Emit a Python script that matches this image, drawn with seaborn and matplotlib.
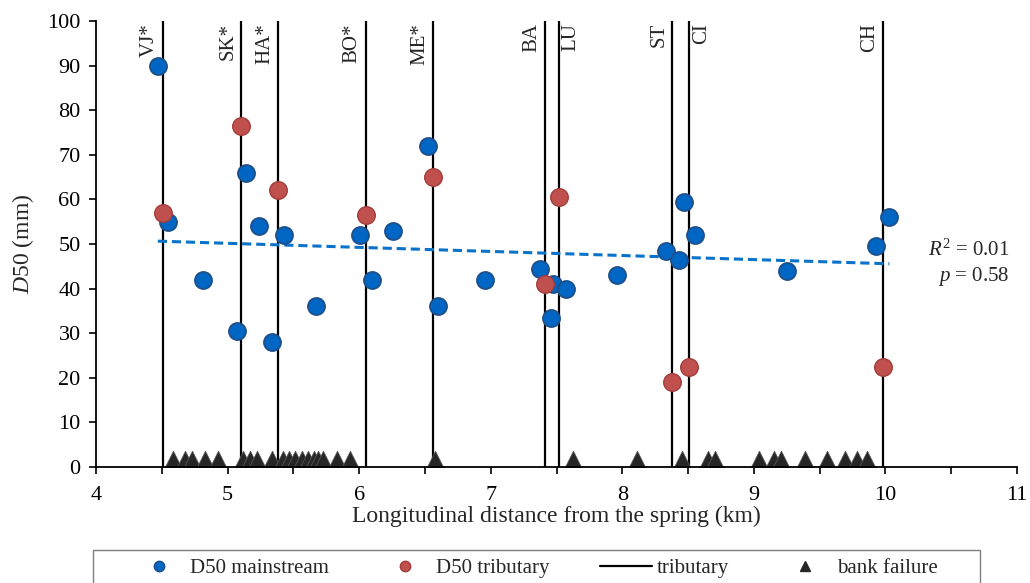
import numpy as np
import pandas as pd
import seaborn as sns
import matplotlib.pyplot as plt
from matplotlib.ticker import MultipleLocator
from matplotlib.lines import Line2D
from matplotlib.patches import Rectangle

# D50 along the main channel (km from spring, mm)
mainstream_km = [4.47, 4.55, 4.81, 5.07, 5.14, 5.24, 5.335, 5.43, 5.67, 6.01, 6.095, 6.26,
                 6.525, 6.60, 6.96, 7.375, 7.455, 7.475, 7.57, 7.96, 8.33, 8.43, 8.47,
                 8.555, 9.255, 9.93, 10.03]
mainstream_d50 = [90, 55, 42, 30.5, 66, 54, 28, 52, 36, 52, 42, 53,
                  72, 36, 42, 44.5, 33.5, 41, 40, 43, 48.5, 46.5, 59.5,
                  52, 44, 49.5, 56]

# tributary confluences
trib_names = ['VJ*', 'SK*', 'HA*', 'BO*', 'ME*', 'BA', 'LU', 'ST', 'CI', 'CH']
trib_km = [4.51, 5.105, 5.385, 6.05, 6.565, 7.415, 7.52, 8.38, 8.51, 9.98]
trib_d50 = [57, 76.5, 62, 56.5, 65, 41, 60.5, 19, 22.5, 22.5]
label_right = ['LU', 'CI']

# bank failures
bank_km = [4.587, 4.676, 4.727, 4.828, 4.929, 5.115, 5.170, 5.221, 5.335, 5.419,
           5.469, 5.512, 5.563, 5.613, 5.657, 5.689, 5.727, 5.834, 5.930, 6.576,
           7.622, 8.113, 8.451, 8.653, 8.704, 9.040, 9.152, 9.205, 9.388, 9.552,
           9.691, 9.785, 9.856]

r2_text = '0.01'
p_text = '0.58'

sns.set_style('ticks')
plt.rcParams['font.family'] = ['Liberation Serif', 'DejaVu Serif']
plt.rcParams['mathtext.fontset'] = 'custom'
plt.rcParams['mathtext.rm'] = 'Liberation Serif'
plt.rcParams['mathtext.it'] = 'Liberation Serif:italic'

main_df = pd.DataFrame({'km': mainstream_km, 'd50': mainstream_d50})
trib_df = pd.DataFrame({'km': trib_km, 'd50': trib_d50})
bank_df = pd.DataFrame({'km': bank_km, 'y': np.full(len(bank_km), 1.8)})

blue = '#0066c4'
red = '#c0504d'

fig = plt.figure(figsize=(10.3, 5.83), dpi=100)
ax = fig.add_axes([0.0932, 0.199, 0.8942, 0.765])

ax.vlines(trib_km, 0, 100, color='black', lw=1.6, zorder=1)
for name, x in zip(trib_names, trib_km):
    if name in label_right:
        ax.text(x + 0.02, 99.5, name, rotation=90, ha='left', va='top', fontsize=15)
    else:
        ax.text(x - 0.03, 99.5, name, rotation=90, ha='right', va='top', fontsize=15)

sns.regplot(data=main_df, x='km', y='d50', ax=ax, scatter=False, ci=None,
            line_kws=dict(color='#0a72c8', lw=2.2, ls=(0, (3, 1.6))))

sns.scatterplot(data=main_df, x='km', y='d50', ax=ax, s=150, color=blue,
                edgecolor='#1d4f8a', linewidth=1.3, zorder=3)
sns.scatterplot(data=trib_df, x='km', y='d50', ax=ax, s=160, color=red,
                edgecolor='#a33d3a', linewidth=1.0, zorder=4)
sns.scatterplot(data=bank_df, x='km', y='y', ax=ax, marker='^', s=140,
                color='#262626', edgecolor='#555555', linewidth=0.6, zorder=2)

ax.text(10.94, 48.7, r'$\mathit{R}^2$ = ' + r2_text, ha='right', va='center', fontsize=15)
ax.text(10.94, 42.8, r'$\mathit{p}$ = ' + p_text, ha='right', va='center', fontsize=15)

ax.set_xlim(4, 11)
ax.set_ylim(0, 100)
ax.xaxis.set_major_locator(MultipleLocator(1))
ax.xaxis.set_minor_locator(MultipleLocator(0.5))
ax.yaxis.set_major_locator(MultipleLocator(10))
ax.tick_params(axis='both', which='both', direction='out', length=5, width=1.2,
               labelsize=16, colors='black')
ax.tick_params(axis='y', pad=6)
ax.tick_params(axis='x', pad=9)
sns.despine(ax=ax)
for s in ['left', 'bottom']:
    ax.spines[s].set_linewidth(1.3)
    ax.spines[s].set_color('black')

ax.set_xlabel('Longitudinal distance from the spring (km)', fontsize=17, labelpad=0)
ax.set_ylabel(r'$\mathit{D50}$ (mm)', fontsize=17, labelpad=8)

# legend box below the plot
ax.add_patch(Rectangle((-0.003, -0.40), 0.963, 0.214, transform=ax.transAxes,
                       fill=False, edgecolor='#7f7f7f', lw=1.0, clip_on=False))
handles = [
    Line2D([], [], marker='o', ls='', color=blue, markeredgecolor='#1d4f8a', markersize=7.5),
    Line2D([], [], marker='o', ls='', color=red, markeredgecolor='#a33d3a', markersize=7.5),
    Line2D([], [], color='black', lw=1.6),
    Line2D([], [], marker='^', ls='', color='#262626', markersize=7),
]
labels = ['D50 mainstream', 'D50 tributary', 'tributary', 'bank failure']
ax.legend(handles, labels, loc='center', bbox_to_anchor=(0.4767, -0.2265),
          ncol=4, frameon=False, fontsize=15, handlelength=2.5, handletextpad=0.25,
          columnspacing=2.4, borderaxespad=0)

fig.savefig('out.png', dpi=100)
plt.close(fig)
